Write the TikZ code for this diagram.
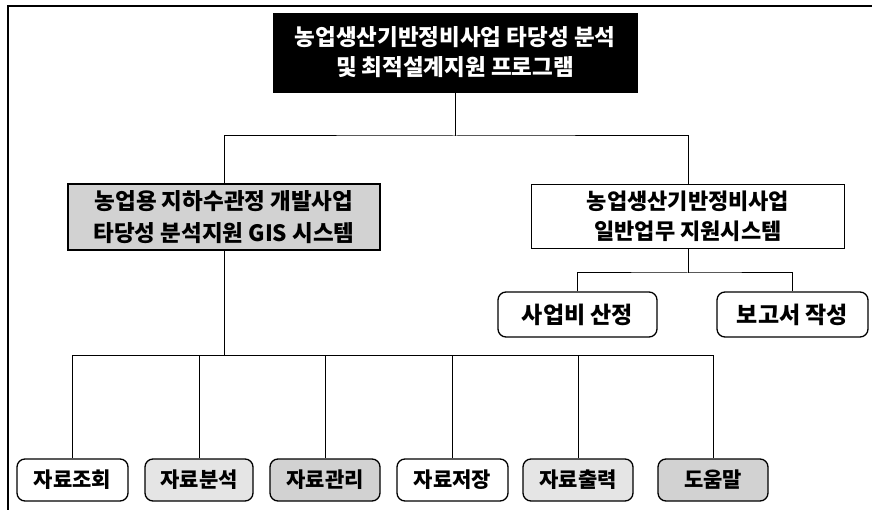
\documentclass[tikz,border=0pt]{standalone}
\usepackage{fontspec}
\newfontfamily\kr{Noto Sans CJK KR}
\tikzset{
  every node/.style={font=\kr},
  conn/.style={line width=1pt, black},
  titlebox/.style={fill=black, text=white, draw=black, minimum width=364pt, minimum height=79pt, align=center, font=\kr\bfseries\fontsize{22.5}{30}\selectfont, inner sep=0pt},
  midbox/.style={draw=black, line width=1.3pt, minimum height=66pt, align=center, inner sep=0pt},
  leafbox/.style={draw=black, line width=1.3pt, rounded corners=8pt, minimum height=42pt, font=\kr\bfseries\fontsize{21}{24}\selectfont, inner sep=0pt},
  shade/.style={fill=gray!35},
  lightshade/.style={fill=gray!20}
}
\begin{document}
\begin{tikzpicture}[x=1pt, y=-1pt]
\useasboundingbox (0,0) rectangle (872,510);
% outer frame
\draw[line width=1.2pt] (8,510) -- (8,6) -- (872,6);
% top
\node[titlebox] (title) at (455,52.5) {농업생산기반정비사업 타당성 분석\\및 최적설계지원 프로그램};
% second level
\node[midbox, shade, minimum width=312pt, font=\kr\bfseries\fontsize{22.5}{32}\selectfont] (gis) at (224,217) {농업용 지하수관정 개발사업\\타당성 분석지원 GIS 시스템};
\node[midbox, minimum width=313pt, minimum height=64pt, font=\kr\bfseries\fontsize{22}{30}\selectfont] (gen) at (688,216.5) {농업생산기반정비사업\\일반업무 지원시스템};
% third level right
\node[leafbox, minimum width=159pt, minimum height=45pt, font=\kr\bfseries\fontsize{23}{26}\selectfont] (cost) at (577.5,314.5) {사업비 산정};
\node[leafbox, minimum width=151pt, minimum height=45pt, font=\kr\bfseries\fontsize{23}{26}\selectfont] (report) at (792.5,314.5) {보고서 작성};
% bottom level
\node[leafbox, minimum width=111pt] (b1) at (72.5,480) {자료조회};
\node[leafbox, lightshade, minimum width=108pt] (b2) at (199,480) {자료분석};
\node[leafbox, shade, minimum width=110pt] (b3) at (325,480) {자료관리};
\node[leafbox, minimum width=111pt] (b4) at (452.5,480) {자료저장};
\node[leafbox, lightshade, minimum width=110pt] (b5) at (578,480) {자료출력};
\node[leafbox, shade, minimum width=110pt] (b6) at (713,480) {도움말};
% bus coordinates
\coordinate (busA) at (455,136);
\coordinate (busB) at (688,273);
\coordinate (busC) at (224,355);
% connectors
\draw[conn] (title.south) -- (busA);
\draw[conn] (gis.north) |- (busA) -| (gen.north);
\draw[conn] (gen.south) -- (busB);
\draw[conn] (cost.north) |- (busB) -| (report.north);
\draw[conn] (gis.south) -- (busC);
\draw[conn] (b1.north) |- (b6.north |- busC) -- (b6.north);
\draw[conn] (b2.north) -- (b2.north |- busC);
\draw[conn] (b3.north) -- (b3.north |- busC);
\draw[conn] (b4.north) -- (b4.north |- busC);
\draw[conn] (b5.north) -- (b5.north |- busC);
\end{tikzpicture}
\end{document}
